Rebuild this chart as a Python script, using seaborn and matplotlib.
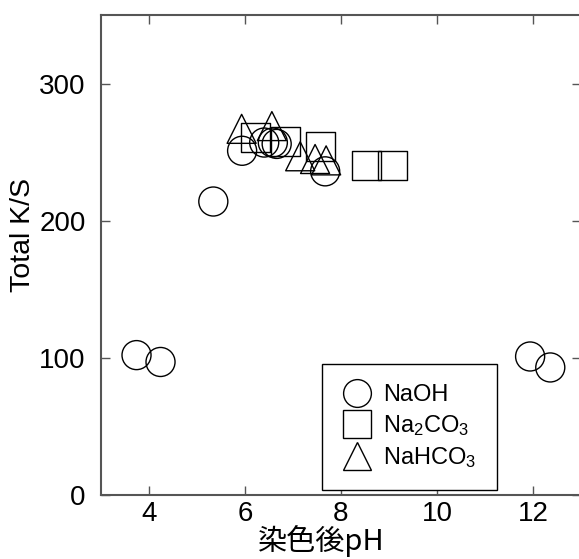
import matplotlib
matplotlib.use("Agg")
import matplotlib.pyplot as plt
from matplotlib.lines import Line2D
import seaborn as sns
import pandas as pd

# ---- data ----
naoh_ph = [3.74, 4.24, 5.34, 5.94, 6.40, 6.58, 6.66, 7.67, 11.94, 12.36]
naoh_ks = [102, 97, 214, 251, 257, 257, 256, 236, 101, 93]

na2co3_ph = [6.21, 6.85, 7.58, 8.53, 9.08]
na2co3_ks = [261, 258, 254, 240, 240]

nahco3_ph = [5.93, 6.56, 7.15, 7.46, 7.69]
nahco3_ks = [267, 269, 247, 245, 244]

series_names = ["NaOH", "Na$_2$CO$_3$", "NaHCO$_3$"]
series_markers = ["o", "s", "^"]
x_ticks = [4, 6, 8, 10, 12]
y_ticks = [0, 100, 200, 300]

sns.set_style("ticks")
plt.rcParams["font.family"] = ["Liberation Sans", "Noto Sans CJK JP", "DejaVu Sans"]
plt.rcParams["mathtext.fontset"] = "custom"
plt.rcParams["mathtext.rm"] = "Liberation Sans"
plt.rcParams["mathtext.it"] = "Liberation Sans"
plt.rcParams["text.color"] = "black"
plt.rcParams["axes.labelcolor"] = "black"
plt.rcParams["xtick.labelcolor"] = "black"
plt.rcParams["ytick.labelcolor"] = "black"

df = pd.concat([
    pd.DataFrame({"pH": naoh_ph, "KS": naoh_ks, "series": series_names[0]}),
    pd.DataFrame({"pH": na2co3_ph, "KS": na2co3_ks, "series": series_names[1]}),
    pd.DataFrame({"pH": nahco3_ph, "KS": nahco3_ks, "series": series_names[2]}),
], ignore_index=True)

W, H = 579, 559
fig = plt.figure(figsize=(W / 100, H / 100), dpi=100)
l, r, t, b = 101, 581, 15, 495
ax = fig.add_axes([l / W, 1 - b / H, (r - l) / W, (b - t) / H])

ms = 20.9
for name, mk in zip(series_names, series_markers):
    sub = df[df["series"] == name]
    sns.scatterplot(data=sub, x="pH", y="KS", marker=mk, s=ms ** 2,
                    facecolor="none", edgecolor="black", linewidth=1.0,
                    legend=False, ax=ax, zorder=3)

ax.set_xlim(3, 13)
ax.set_ylim(0, 350)
ax.set_xticks(x_ticks)
ax.set_yticks(y_ticks)
ax.tick_params(axis="both", which="major", direction="in", length=6.5,
               width=1.0, color="#555555", labelsize=20, labelcolor="black",
               top=True, right=True)
ax.tick_params(axis="y", pad=11)
ax.tick_params(axis="x", pad=4)
for sp in ax.spines.values():
    sp.set_visible(True)
    sp.set_color("#555555")
    sp.set_linewidth(1.5)

ax.set_xlabel("染色後pH", fontsize=21, color="black",
              family=["Noto Sans CJK JP", "DejaVu Sans"])
ax.set_ylabel("Total K/S", fontsize=20.5, color="black")
ax.xaxis.set_label_coords(0.458, -0.062)
ax.yaxis.set_label_coords(-0.135, 0.541)

handles = [Line2D([], [], linestyle="none", marker=mk, markersize=20,
                  markerfacecolor="none", markeredgecolor="black",
                  markeredgewidth=1.0, label=name)
           for name, mk in zip(series_names, series_markers)]
leg = ax.legend(handles=handles, loc="lower left",
                bbox_to_anchor=(0.46, 0.0104), fontsize=17,
                frameon=True, fancybox=False, edgecolor="black",
                framealpha=1, borderpad=0.85, labelspacing=0.3,
                handlelength=1.25, handletextpad=0.5, borderaxespad=0)
leg.get_frame().set_linewidth(1.0)
for txt in leg.get_texts():
    txt.set_color("black")

fig.savefig("out.png", dpi=100)
